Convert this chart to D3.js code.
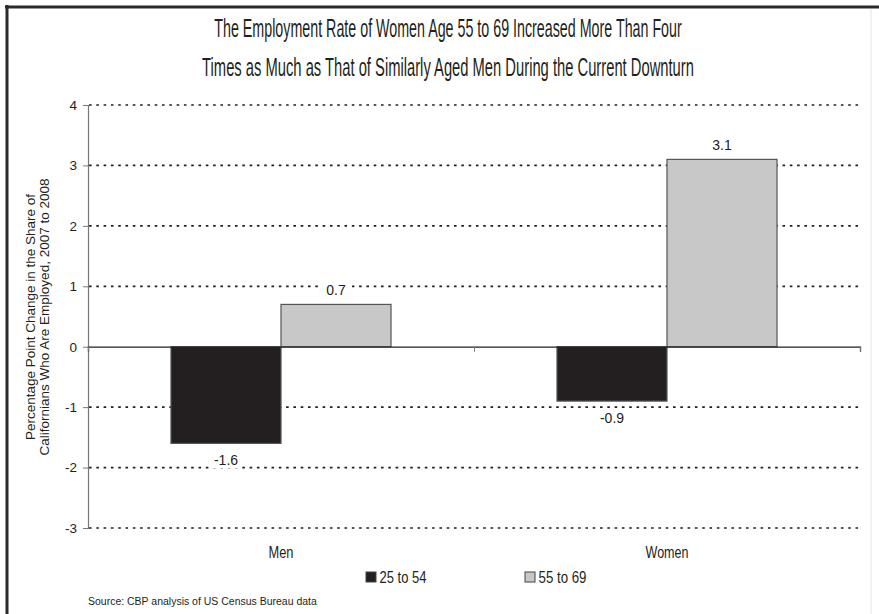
<!DOCTYPE html>
<html><head><meta charset="utf-8">
<script src="https://cdn.jsdelivr.net/npm/d3@7/dist/d3.min.js"></script>
<style>body{margin:0;background:#fff}svg{display:block}</style>
</head><body>
<svg id="c" width="879" height="614"></svg>
<script>
const categories = ["Men", "Women"];
const seriesNames = ["25 to 54", "55 to 69"];
const values25to54 = [-1.6, -0.9];
const values55to69 = [0.7, 3.1];
const yTicks = [-3, -2, -1, 0, 1, 2, 3, 4];
const titleLines = ["The Employment Rate of Women Age 55 to 69 Increased More Than Four",
                    "Times as Much as That of Similarly Aged Men During the Current Downturn"];
const yLabelLines = ["Percentage Point Change in the Share of", "Californians Who Are Employed, 2007 to 2008"];
const sourceText = "Source: CBP analysis of US Census Bureau data";

const colors = ["#231f20", "#c8c8c8"];
const ink = "#231f20";
const svg = d3.select("#c");
const narrow = "'Liberation Sans Narrow', 'Liberation Sans', Arial, sans-serif";
const sans = "'Liberation Sans', Arial, sans-serif";
const fmt = v => String(v).replace("\u2212", "-");

// condensed text: draw at natural size, then squeeze horizontally to a target width
function condensed(parent, txt, cx, cy, size, width, anchor) {
  const g = parent.append("g");
  const t = g.append("text").attr("x", 0).attr("y", 0).attr("text-anchor", anchor)
    .attr("font-family", narrow).attr("font-size", size).attr("fill", ink).text(txt);
  const w = t.node().getComputedTextLength();
  const k = w > 0 ? width / w : 1;
  g.attr("transform", `translate(${cx},${cy}) scale(${k},1)`);
  return g;
}

// frame
svg.append("rect").attr("x", 0).attr("y", 0).attr("width", 879).attr("height", 614).attr("fill", "#fff");
svg.append("line").attr("x1", 5).attr("x2", 879).attr("y1", 7).attr("y2", 7).attr("stroke", "#2a2a2a").attr("stroke-width", 3);
svg.append("line").attr("x1", 7).attr("x2", 7).attr("y1", 5).attr("y2", 614).attr("stroke", "#2a2a2a").attr("stroke-width", 3);
svg.append("line").attr("x1", 871).attr("x2", 871).attr("y1", 9).attr("y2", 614).attr("stroke", "#e4e4e4").attr("stroke-width", 1);

// title
const titleY = [37, 76], titleW = [468, 492];
titleLines.forEach((t, i) => condensed(svg, t, 448, titleY[i], 26.5, titleW[i], "middle"));

const x0 = 88, x1 = 860;
const y = d3.scaleLinear().domain([-3, 4]).range([528, 105]);
const x = d3.scaleBand().domain(categories).range([x0, x1]).paddingInner(0.43).paddingOuter(0.215);
const xs = d3.scaleBand().domain(seriesNames).range([0, x.bandwidth()]);

// gridlines
svg.append("g").selectAll("line").data(yTicks.filter(d => d !== 0)).join("line")
  .attr("x1", x0 + 1).attr("x2", x1).attr("y1", d => y(d)).attr("y2", d => y(d))
  .attr("stroke", ink).attr("stroke-width", 1.7).attr("stroke-dasharray", "2.6,4.7");

// y axis
const yAxis = svg.append("g").attr("transform", `translate(${x0},0)`)
  .call(d3.axisLeft(y).tickValues(yTicks).tickSize(5).tickPadding(6).tickFormat(d => fmt(d)));
yAxis.select(".domain").attr("stroke", "#777").attr("stroke-width", 1.2);
yAxis.selectAll(".tick line").attr("stroke", "#777");
yAxis.selectAll("text").attr("font-family", sans).attr("font-size", 13.5).attr("fill", ink);

// bars
const series = [values25to54, values55to69];
const barData = [];
categories.forEach((c, i) => series.forEach((s, j) => barData.push({c, s: seriesNames[j], v: s[i], j})));
svg.append("g").selectAll("rect").data(barData).join("rect")
  .attr("x", d => x(d.c) + xs(d.s)).attr("width", xs.bandwidth())
  .attr("y", d => y(Math.max(0, d.v))).attr("height", d => Math.abs(y(d.v) - y(0)))
  .attr("fill", d => colors[d.j]).attr("stroke", "#555").attr("stroke-width", 1.2);

// zero axis
const xAxis = svg.append("g").attr("transform", `translate(0,${y(0)})`)
  .call(d3.axisBottom(d3.scaleLinear().domain([0, 2]).range([x0, x1])).tickValues([0, 1, 2]).tickSize(5).tickFormat(""));
xAxis.select(".domain").attr("stroke", ink).attr("stroke-width", 1.3);
xAxis.selectAll(".tick line").attr("stroke", "#777");

// value labels
const lbl = svg.append("g").selectAll("g").data(barData).join("g")
  .attr("transform", d => `translate(${x(d.c) + xs(d.s) + xs.bandwidth() / 2},${d.v >= 0 ? y(d.v) - 9 : y(d.v) + 22})`);
lbl.append("rect").attr("x", -16).attr("y", -13).attr("width", 32).attr("height", 16).attr("fill", "#fff");
lbl.append("text").attr("text-anchor", "middle").attr("font-family", sans).attr("font-size", 14)
  .attr("fill", ink).text(d => fmt(d3.format(".1f")(d.v)));

// category labels
const catW = [25, 43];
categories.forEach((c, i) => condensed(svg, c, x(c) + x.bandwidth() / 2, 558, 16, catW[i], "middle"));

// legend
const legX = [366, 525], legW = [47, 48];
seriesNames.forEach((s, i) => {
  svg.append("rect").attr("x", legX[i]).attr("y", 572).attr("width", 10).attr("height", 10)
    .attr("fill", colors[i]).attr("stroke", "#444").attr("stroke-width", 1);
  condensed(svg, s, legX[i] + 13.5, 582.5, 16, legW[i], "start");
});

// y label
yLabelLines.forEach((t, i) => {
  svg.append("text").attr("transform", `translate(${35 + i * 13.5},317) rotate(-90)`)
    .attr("text-anchor", "middle").attr("font-family", sans).attr("font-size", 13.5).attr("fill", ink).text(t);
});

// source
condensed(svg, sourceText, 88, 605, 11.5, 229, "start");
</script>
</body></html>
